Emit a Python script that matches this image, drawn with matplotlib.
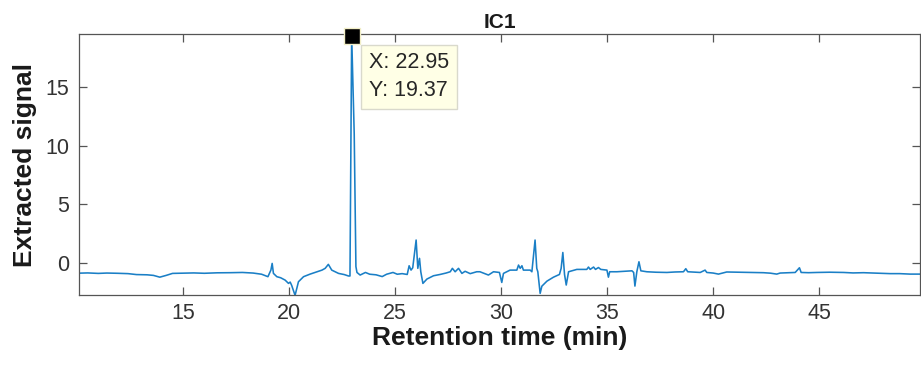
import numpy as np
import matplotlib
matplotlib.use("Agg")
import matplotlib.pyplot as plt

plt.rcParams['font.family'] = ['Liberation Sans', 'DejaVu Sans']

# retention time (min) and extracted signal
rt = [10.09, 10.5, 11.0, 11.4, 11.9, 12.4, 12.8, 13.3, 13.6, 13.9, 14.2, 14.5,
      15.0, 15.5, 16.0, 16.6, 17.2, 17.8, 18.3, 18.7, 19.0, 19.14, 19.2, 19.26,
      19.42, 19.6, 19.81, 19.97, 20.05, 20.12, 20.28, 20.44, 20.68, 20.99, 21.31,
      21.55, 21.7, 21.85, 22.01, 22.33, 22.6, 22.8, 22.87, 22.95, 23.07, 23.15,
      23.2, 23.35, 23.6, 23.8, 24.1, 24.39, 24.6, 24.9, 25.1, 25.33, 25.57, 25.66,
      25.75, 25.83, 25.99, 26.07, 26.15, 26.21, 26.31, 26.5, 26.81, 27.12, 27.4,
      27.6, 27.7, 27.83, 27.99, 28.15, 28.3, 28.54, 28.85, 29.0, 29.2, 29.4, 29.64,
      29.92, 30.03, 30.11, 30.42, 30.74, 30.82, 30.9, 30.98, 31.05, 31.37, 31.45,
      31.6, 31.68, 31.73, 31.84, 31.92, 32.16, 32.47, 32.75, 32.83, 32.91, 32.99,
      33.07, 33.18, 33.57, 34.04, 34.12, 34.2, 34.36, 34.45, 34.59, 34.7, 34.99,
      35.06, 35.12, 35.46, 35.85, 36.17, 36.25, 36.31, 36.4, 36.5, 36.59, 36.87,
      37.3, 37.82, 38.2, 38.6, 38.71, 38.8, 39.39, 39.62, 39.7, 40.0, 40.25, 40.64,
      41.27, 41.75, 42.37, 42.7, 43.0, 43.16, 43.5, 43.87, 44.07, 44.15, 44.5,
      44.89, 45.5, 46.15, 46.6, 47.09, 47.7, 48.35, 48.8, 49.29, 49.76]
signal = [-0.86, -0.84, -0.88, -0.85, -0.87, -0.9, -0.98, -1.0, -1.05, -1.2, -1.05, -0.88,
          -0.86, -0.84, -0.87, -0.83, -0.82, -0.8, -0.85, -0.95, -1.16, -0.6, -0.03, -0.88,
          -1.16, -1.25, -1.45, -1.73, -1.62, -1.9, -2.75, -1.59, -1.16, -0.94, -0.74,
          -0.6, -0.45, -0.11, -0.6, -0.88, -0.98, -1.1, -1.1, 19.37, 11.0, -0.3,
          -0.8, -1.02, -0.8, -0.95, -1.0, -1.15, -0.95, -0.8, -0.95, -0.9, -0.97, -0.23,
          -0.6, -0.4, 1.96, -0.45, 0.4, -0.74, -1.73, -1.36, -1.08, -0.97, -0.85,
          -0.74, -0.45, -0.74, -0.45, -0.88, -0.7, -0.9, -0.74, -0.74, -0.88, -1.02, -0.74,
          -0.8, -1.65, -0.88, -0.6, -0.6, -0.17, -0.45, -0.23, -0.6, -0.6, -0.74,
          1.96, -0.45, -0.74, -2.58, -1.97, -1.54, -1.2, -0.97, -0.45, 0.9, -0.97,
          -1.87, -0.74, -0.54, -0.54, -0.34, -0.54, -0.34, -0.54, -0.38, -0.54, -0.6,
          -1.2, -0.74, -0.74, -0.7, -0.66, -0.8, -1.96, -0.74, 0.11, -0.66, -0.74,
          -0.78, -0.8, -0.76, -0.74, -0.48, -0.74, -0.8, -0.6, -0.8, -0.85, -0.94, -0.76,
          -0.78, -0.8, -0.82, -0.86, -0.94, -0.85, -0.83, -0.8, -0.4, -0.8, -0.82,
          -0.8, -0.78, -0.8, -0.84, -0.82, -0.86, -0.9, -0.9, -0.94, -0.94]

tip_x, tip_y = 22.95, 19.37

fig = plt.figure(figsize=(9.21, 3.69), dpi=100)
ax = fig.add_axes([0.0858, 0.2005, 0.9132, 0.7074])

ax.plot(rt, signal, color='#1a7fc6', lw=1.15)

ax.set_xlim(10.09, 49.76)
ax.set_ylim(-2.72, 19.5)
ax.set_xticks([15, 20, 25, 30, 35, 40, 45])
ax.set_yticks([0, 5, 10, 15])

for s in ax.spines.values():
    s.set_color('#555555')
    s.set_linewidth(0.9)
ax.tick_params(direction='in', length=6, width=0.9, color='#555555',
               labelsize=15.5, labelcolor='#333333', top=True, right=True)
ax.tick_params(axis='x', pad=6)
ax.tick_params(axis='y', pad=7)

ax.set_title('IC1', fontsize=15, fontweight='bold', color='#1a1a1a', pad=4)
ax.set_xlabel('Retention time (min)', fontsize=19, fontweight='bold', color='#1a1a1a', labelpad=1)
ax.set_ylabel('Extracted signal', fontsize=19, fontweight='bold', color='#1a1a1a', labelpad=6)

# data tip
ax.plot(tip_x, tip_y, 's', ms=12, mfc='black', mec='#f2efc8', mew=1.0,
        clip_on=False, zorder=5)
ax.annotate(f'X: {tip_x:.2f}\nY: {tip_y:.2f}', xy=(tip_x, tip_y),
            xytext=(12.5, -12), textcoords='offset points', ha='left', va='top',
            fontsize=15.5, color='#262626', linespacing=1.45, zorder=6,
            bbox=dict(boxstyle='square,pad=0.35', fc='#ffffe6', ec='#d9d9cc', lw=1.0))

fig.savefig('out.png', dpi=100)
